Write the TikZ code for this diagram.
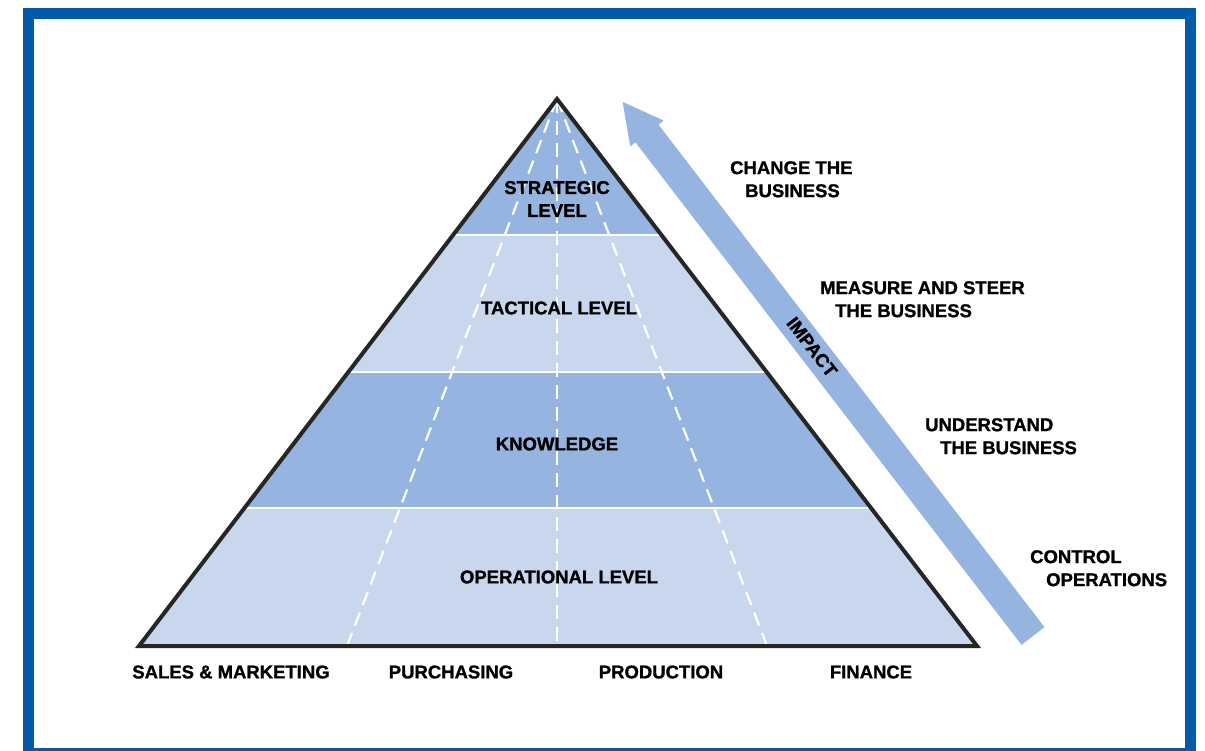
\documentclass[tikz,border=0pt]{standalone}
\usepackage{fontspec}
\setmainfont{Liberation Sans}[BoldFeatures={FakeBold=1.2}]
\usepackage{tikz}
\usetikzlibrary{arrows.meta,positioning}
\definecolor{framebl}{RGB}{0,91,170}
\definecolor{banddark}{RGB}{149,180,224}
\definecolor{bandlight}{RGB}{200,214,238}

\begin{document}
\begin{tikzpicture}
    [x=1pt,y=-1pt,
    lbl/.style={
      font=\bfseries\fontsize{18.5}{23}\selectfont,
      inner sep=0pt,
      align=#1
      },
    lbl/.default=center,
    band/.style={fill=#1},
    sep/.style={draw=white,line width=2pt},
    lane/.style={draw=white,line width=2.2pt,dash pattern=on 14pt off 8pt},
    edge/.style={draw=black!85,line width=4pt,line join=miter}]

    \useasboundingbox (0,0) rectangle (1205,750);
    \draw[framebl,line width=11pt] (28.5,13.5) rectangle (1190,753.5);

    % pyramid
    \coordinate (top) at (557,99);
    \coordinate (bl) at (139,646);
    \coordinate (br) at (977,646);
    \begin{scope}
      \clip (top) -- (bl) -- (br) -- cycle;
      \fill[band=banddark]  (100,90)  rectangle (1000,235);
      \fill[band=bandlight] (100,235) rectangle (1000,372);
      \fill[band=banddark]  (100,372) rectangle (1000,508);
      \fill[band=bandlight] (100,508) rectangle (1000,650);
      \draw[sep] (100,235) -- (1000,235);
      \draw[sep] (100,372) -- (1000,372);
      \draw[sep] (100,508) -- (1000,508);
      \draw[lane] (top) -- (557,646);
      \draw[lane] (top) -- (347,646);
      \draw[lane] (top) -- (767,646);
    \end{scope}
    \draw[edge] (top) -- (bl) -- (br) -- cycle;

    \node (strat)[lbl] at (557,199) {STRATEGIC\\LEVEL};
    \node (tact) [lbl] at (559,308) {TACTICAL LEVEL};
    \node (know) [lbl] at (557,444) {KNOWLEDGE};
    \node (oper) [lbl] at (559,577) {OPERATIONAL LEVEL};

    % departments
    \node (sales) [lbl] at (231,672) {SALES \& MARKETING};
    \node (purch) [lbl] at (451,672) {PURCHASING};
    \node (prod)  [lbl] at (661,672) {PRODUCTION};
    \node (fin)   [lbl] at (871,672) {FINANCE};

    % impact arrow
    \coordinate (impfrom) at (1033,636);
    \coordinate (impto) at (622,101);
    \draw[banddark,line width=29pt,-{Triangle[length=41pt,width=39pt]}] (impfrom) -- (impto);
    \node (imp)[lbl,rotate=-52.5] at (812,347) {IMPACT};

    \node (chg)  [lbl=left,anchor=north west] at (730,161) {CHANGE THE\\\hspace*{15pt}BUSINESS};
    \node (meas) [lbl=left,anchor=north west] at (820,281) {MEASURE AND STEER\\\hspace*{15pt}THE BUSINESS};
    \node (und)  [lbl=left,anchor=north west] at (925,418) {UNDERSTAND\\\hspace*{15pt}THE BUSINESS};
    \node (ctrl) [lbl=left,anchor=north west] at (1030,550) {CONTROL\\\hspace*{16pt}OPERATIONS};

  \end{tikzpicture}
\end{document}
